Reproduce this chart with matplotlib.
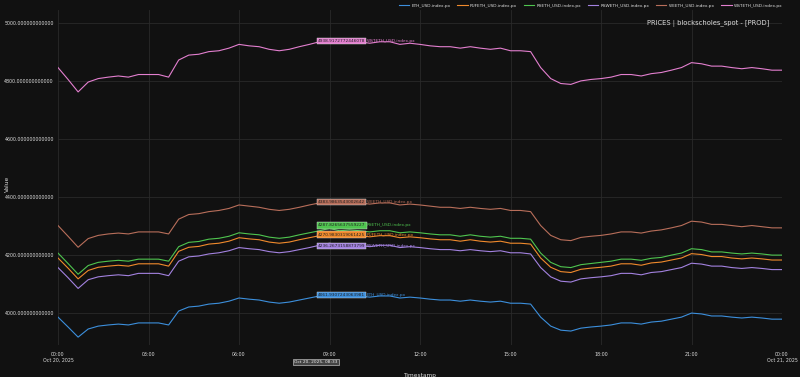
import numpy as np
import pandas as pd
import matplotlib
matplotlib.use("Agg")
import matplotlib.pyplot as plt
import matplotlib.dates as mdates

# 20-minute prices (00:00 Oct 20 -> 00:00 Oct 21)
times = pd.date_range("2025-10-20 00:00", "2025-10-21 00:00", freq="20min")

eth = [3986, 3952, 3917, 3945, 3955, 3959, 3962, 3959, 3966, 3966,
       3966, 3959, 4007, 4021, 4024, 4031, 4034, 4041, 4052, 4048,
       4045, 4038, 4034, 4038, 4045, 4052, 4059, 4066, 4059, 4062,
       4059, 4055, 4059, 4059, 4052, 4055, 4052, 4048, 4045, 4045,
       4041, 4045, 4041, 4038, 4041, 4034, 4034, 4031, 3986, 3955,
       3941, 3938, 3948, 3952, 3955, 3959, 3966, 3966, 3962, 3969,
       3972, 3979, 3986, 4000, 3997, 3990, 3990, 3986, 3983, 3986,
       3983, 3979, 3979]
pufeth = [4190, 4155, 4118, 4147, 4158, 4162, 4165, 4162, 4170, 4170,
          4170, 4162, 4213, 4227, 4230, 4238, 4241, 4248, 4260, 4256,
          4253, 4245, 4241, 4245, 4253, 4260, 4267, 4275, 4267, 4270,
          4267, 4263, 4267, 4267, 4260, 4263, 4260, 4256, 4253, 4253,
          4248, 4253, 4248, 4245, 4248, 4241, 4241, 4238, 4190, 4158,
          4143, 4140, 4151, 4155, 4158, 4162, 4170, 4170, 4165, 4173,
          4176, 4183, 4190, 4205, 4202, 4195, 4195, 4190, 4187, 4190,
          4187, 4183, 4183]
rseth = [4207, 4171, 4134, 4164, 4175, 4179, 4182, 4179, 4186, 4186,
         4186, 4179, 4229, 4244, 4247, 4255, 4258, 4265, 4277, 4273,
         4270, 4262, 4258, 4262, 4270, 4277, 4284, 4292, 4284, 4287,
         4284, 4280, 4284, 4284, 4277, 4280, 4277, 4273, 4270, 4270,
         4265, 4270, 4265, 4262, 4265, 4258, 4258, 4255, 4207, 4175,
         4160, 4157, 4167, 4171, 4175, 4179, 4186, 4186, 4182, 4189,
         4192, 4200, 4207, 4222, 4219, 4211, 4211, 4207, 4204, 4207,
         4204, 4200, 4200]
rsweth = [4157, 4122, 4085, 4115, 4125, 4129, 4132, 4129, 4137, 4137,
          4137, 4129, 4179, 4194, 4197, 4204, 4208, 4215, 4226, 4222,
          4219, 4212, 4208, 4212, 4219, 4226, 4234, 4241, 4234, 4237,
          4234, 4229, 4234, 4234, 4226, 4229, 4226, 4222, 4219, 4219,
          4215, 4219, 4215, 4212, 4215, 4208, 4208, 4204, 4157, 4125,
          4110, 4107, 4118, 4122, 4125, 4129, 4137, 4137, 4132, 4140,
          4143, 4150, 4157, 4172, 4169, 4162, 4162, 4157, 4154, 4157,
          4154, 4150, 4150]
weeth = [4302, 4265, 4227, 4257, 4268, 4273, 4276, 4273, 4280, 4280,
         4280, 4273, 4324, 4340, 4343, 4350, 4354, 4361, 4373, 4369,
         4365, 4358, 4354, 4358, 4365, 4373, 4380, 4388, 4380, 4384,
         4380, 4376, 4380, 4380, 4373, 4376, 4373, 4369, 4365, 4365,
         4361, 4365, 4361, 4358, 4361, 4354, 4354, 4350, 4302, 4268,
         4253, 4250, 4261, 4265, 4268, 4273, 4280, 4280, 4276, 4283,
         4287, 4294, 4302, 4317, 4314, 4306, 4306, 4302, 4298, 4302,
         4298, 4294, 4294]
wsteth = [4847, 4806, 4763, 4797, 4809, 4814, 4818, 4814, 4823, 4823,
          4823, 4814, 4873, 4890, 4893, 4902, 4905, 4914, 4927, 4922,
          4919, 4910, 4905, 4910, 4919, 4927, 4936, 4944, 4936, 4939,
          4936, 4931, 4936, 4936, 4927, 4931, 4927, 4922, 4919, 4919,
          4914, 4919, 4914, 4910, 4914, 4905, 4905, 4902, 4847, 4809,
          4792, 4789, 4801, 4806, 4809, 4814, 4823, 4823, 4818, 4826,
          4830, 4838, 4847, 4864, 4860, 4852, 4852, 4847, 4843, 4847,
          4843, 4838, 4838]

names = ["ETH_USD.index.px", "PUFETH_USD.index.px", "RSETH_USD.index.px",
         "RSWETH_USD.index.px", "WEETH_USD.index.px", "WSTETH_USD.index.px"]
series = [eth, pufeth, rseth, rsweth, weeth, wsteth]
colors = ["#3c8fdc", "#f08a2c", "#4fc54f", "#a382e0", "#b86e5a", "#e37fcf"]

# hover labels at 08:33
hover_time = pd.Timestamp("2025-10-20 08:33")
hover_vals = [4061.93, 4270.98, 4287.83, 4236.27, 4383.99, 4938.92]
hover_text = ["4061.9307243063981", "4270.9830319061425", "4287.8265637559227",
              "4236.2673158873799", "4383.9863543002642", "4938.9172772446078"]
hover_offset = [0, 0, 3, -1, 0, 0]  # points, vertical spreading

bg = "#111111"
fg = "#dddddd"
fig = plt.figure(figsize=(8, 3.77), dpi=100, facecolor=bg)
ax = fig.add_axes([0.0725, 0.085, 0.905, 0.888], facecolor=bg)

for name, vals, c in zip(names, series, colors):
    ax.plot(times, vals, color=c, lw=0.8, label=name)

ax.set_xlim(times[0], times[-1])
ax.set_ylim(3890, 5045)
ax.set_yticks([4000, 4200, 4400, 4600, 4800, 5000])
ax.yaxis.set_major_formatter(plt.FuncFormatter(lambda v, p: f"{v:.12f}"))

xt = pd.date_range("2025-10-20 00:00", "2025-10-21 00:00", freq="3h")
ax.set_xticks(xt)
xl = [t.strftime("%H:%M") for t in xt]
xl[0] = "00:00\nOct 20, 2025"
xl[-1] = "00:00\nOct 21, 2025"
ax.set_xticklabels(xl)

ax.grid(True, color="#2a2a2a", lw=0.6)
for s in ax.spines.values():
    s.set_visible(False)
ax.tick_params(colors=fg, labelsize=3.4, length=0, pad=3)
ax.tick_params(axis="x", pad=5)
ax.set_xlabel("Timestamp", color=fg, fontsize=4.2)
ax.xaxis.set_label_coords(0.5, -0.083)
ax.set_ylabel("Value", color=fg, fontsize=4.2)
ax.yaxis.set_label_coords(-0.066, 0.48)

ax.text(0.983, 0.96, "PRICES | blockscholes_spot - [PROD]", transform=ax.transAxes,
        ha="right", va="center", color=fg, fontsize=4.9)

hx = mdates.date2num(hover_time)
for v, txt, c, name, off in zip(hover_vals, hover_text, colors, names, hover_offset):
    ax.annotate(txt, (hx, v), xytext=(1.5, off), textcoords="offset points",
                ha="left", va="center", fontsize=3.1, color="#222222",
                bbox=dict(boxstyle="square,pad=0.25", fc=c, ec=fg, lw=0.3))
    ax.annotate(name, (hx, v), xytext=(36.5, off), textcoords="offset points",
                ha="left", va="center", fontsize=3.1, color=c)

ax.annotate("Oct 20, 2025, 08:33", (hx, 0), xycoords=("data", "axes fraction"),
            xytext=(0, -12), textcoords="offset points", ha="center", va="center",
            fontsize=3.2, color="#eeeeee",
            bbox=dict(boxstyle="square,pad=0.25", fc="#444444", ec=fg, lw=0.4))

fig.legend(loc="upper right", bbox_to_anchor=(0.983, 1.0), ncol=6, frameon=False,
           fontsize=3.1, labelcolor=fg, handlelength=2.4, columnspacing=1.6,
           handletextpad=0.5)

fig.savefig("out.png", dpi=100, facecolor=bg)
